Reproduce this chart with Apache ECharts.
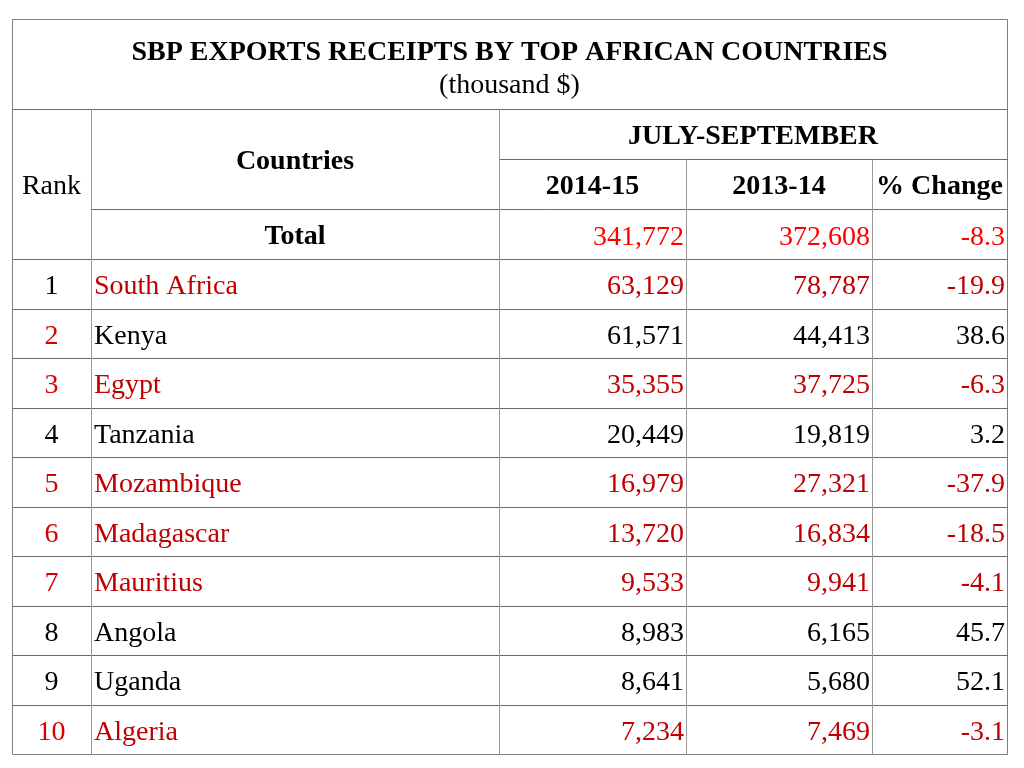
<!DOCTYPE html>
<html><head><meta charset="utf-8">
<script src="https://cdn.jsdelivr.net/npm/echarts@6/dist/echarts.min.js"></script>
<style>html,body{margin:0;padding:0;background:#fff}#c{width:1024px;height:768px}</style>
</head><body><div id="c"></div><script>
// ---- data ----
const title = 'SBP EXPORTS RECEIPTS BY TOP AFRICAN COUNTRIES';
const subtitle = '(thousand $)';
const periodLabel = 'JULY-SEPTEMBER';
const rankHeader = 'Rank';
const countryHeader = 'Countries';
const columnHeaders = ['2014-15', '2013-14', '% Change'];
const totalLabel = 'Total';
const totals = [341772, 372608, -8.3];
const ranks = [1, 2, 3, 4, 5, 6, 7, 8, 9, 10];
const countries = ['South Africa', 'Kenya', 'Egypt', 'Tanzania', 'Mozambique', 'Madagascar', 'Mauritius', 'Angola', 'Uganda', 'Algeria'];
const receipts2014_15 = [63129, 61571, 35355, 20449, 16979, 13720, 9533, 8983, 8641, 7234];
const receipts2013_14 = [78787, 44413, 37725, 19819, 27321, 16834, 9941, 6165, 5680, 7469];
const pctChange = [-19.9, 38.6, -6.3, 3.2, -37.9, -18.5, -4.1, 45.7, 52.1, -3.1];
const redRanks = [2, 3, 5, 6, 7, 10];

// ---- layout (axis units inside the table frame) ----
const W = 995, H = 735;
const colEdges = [0, 79, 487, 674, 860, 995];
const rowEdges = [0, 90, 140, 190, 240];
for (let k = 1; k <= 10; k++) rowEdges.push(240 + 49.5 * k);
const FONT = '"Liberation Serif", "Times New Roman", serif';
const BLACK = '#000', DARKRED = '#c00000', RED = '#ff0000', RANKRED = '#d80000';
const DY = 3; // baseline nudge

const cells = [];
const mid = (a, b) => (a + b) / 2;
function cell(x, y, text, opt) { cells.push(Object.assign({ x, y, text, align: 'center', bold: false, color: BLACK, size: 28 }, opt)); }
const fmt = v => v.toLocaleString('en-US');

cell(W / 2, 34, title, { bold: true, size: 28 });
cell(W / 2, 67, subtitle, { size: 28 });
cell(mid(colEdges[0], colEdges[1]), mid(rowEdges[1], rowEdges[4]) + DY, rankHeader);
cell(mid(colEdges[1], colEdges[2]), mid(rowEdges[1], rowEdges[3]) + DY, countryHeader, { bold: true });
cell(mid(colEdges[2], colEdges[5]), mid(rowEdges[1], rowEdges[2]) + DY, periodLabel, { bold: true });
columnHeaders.forEach((h, i) => cell(mid(colEdges[2 + i], colEdges[3 + i]), mid(rowEdges[2], rowEdges[3]) + DY, h, { bold: true }));
cell(mid(colEdges[1], colEdges[2]), mid(rowEdges[3], rowEdges[4]) + DY, totalLabel, { bold: true });
[fmt(totals[0]), fmt(totals[1]), totals[2].toFixed(1)].forEach((t, i) =>
  cell(colEdges[3 + i] - 2, mid(rowEdges[3], rowEdges[4]) + DY + 1, t, { align: 'right', color: RED }));
ranks.forEach((r, i) => {
  const y = mid(rowEdges[4 + i], rowEdges[5 + i]) + DY;
  const c = pctChange[i] < 0 ? DARKRED : BLACK;
  cell(mid(colEdges[0], colEdges[1]), y, String(r), { color: redRanks.includes(r) ? RANKRED : BLACK });
  cell(colEdges[1] + 3, y, countries[i], { align: 'left', color: c });
  cell(colEdges[3] - 2, y, fmt(receipts2014_15[i]), { align: 'right', color: c });
  cell(colEdges[4] - 2, y, fmt(receipts2013_14[i]), { align: 'right', color: c });
  cell(colEdges[5] - 2, y, pctChange[i].toFixed(1), { align: 'right', color: c });
});

// grid lines: [x1, y1, x2, y2, kind]  kind 0 = horizontal, 1 = vertical, 2 = frame
const lines = [];
lines.push([0, 0, W, 0, 2], [0, H, W, H, 2], [0, 0, 0, H, 2], [W, 0, W, H, 2]);
lines.push([0, rowEdges[1], W, rowEdges[1], 0]);
lines.push([colEdges[2], rowEdges[2], W, rowEdges[2], 0]);
lines.push([colEdges[1], rowEdges[3], W, rowEdges[3], 0]);
for (let k = 4; k < rowEdges.length - 1; k++) lines.push([0, rowEdges[k], W, rowEdges[k], 0]);
lines.push([colEdges[1], rowEdges[1], colEdges[1], H, 1]);
lines.push([colEdges[2], rowEdges[1], colEdges[2], H, 1]);
lines.push([colEdges[3], rowEdges[2], colEdges[3], H, 1]);
lines.push([colEdges[4], rowEdges[2], colEdges[4], H, 1]);

const crisp = v => Math.round(v) + 0.5;
const chart = echarts.init(document.getElementById('c'));
chart.setOption({
  backgroundColor: '#fff',
  animation: false,
  grid: { left: 12, top: 19, width: W, height: H },
  xAxis: { type: 'value', min: 0, max: W, show: false },
  yAxis: { type: 'value', min: 0, max: H, inverse: true, show: false },
  series: [
    {
      type: 'custom',
      encode: { x: [0, 2], y: [1, 3] },
      data: lines,
      silent: true,
      renderItem: (params, api) => {
        const p1 = api.coord([api.value(0), api.value(1)]);
        const p2 = api.coord([api.value(2), api.value(3)]);
        const kind = api.value(4);
        return {
          type: 'line',
          shape: { x1: crisp(p1[0]), y1: crisp(p1[1]), x2: crisp(p2[0]), y2: crisp(p2[1]) },
          style: { stroke: kind === 1 ? '#9a9a9a' : (kind === 2 ? '#808080' : '#6a6a6a'), lineWidth: 1 }
        };
      }
    },
    {
      type: 'custom',
      encode: { x: 0, y: 1 },
      data: cells.map(c => [c.x, c.y]),
      silent: true,
      renderItem: (params, api) => {
        const c = cells[params.dataIndex];
        const p = api.coord([api.value(0), api.value(1)]);
        return {
          type: 'text',
          x: p[0], y: p[1],
          style: {
            text: c.text, fill: c.color, align: c.align, verticalAlign: 'middle',
            font: (c.bold ? 'bold ' : '') + c.size + 'px ' + FONT
          }
        };
      }
    }
  ]
});
</script></body></html>
